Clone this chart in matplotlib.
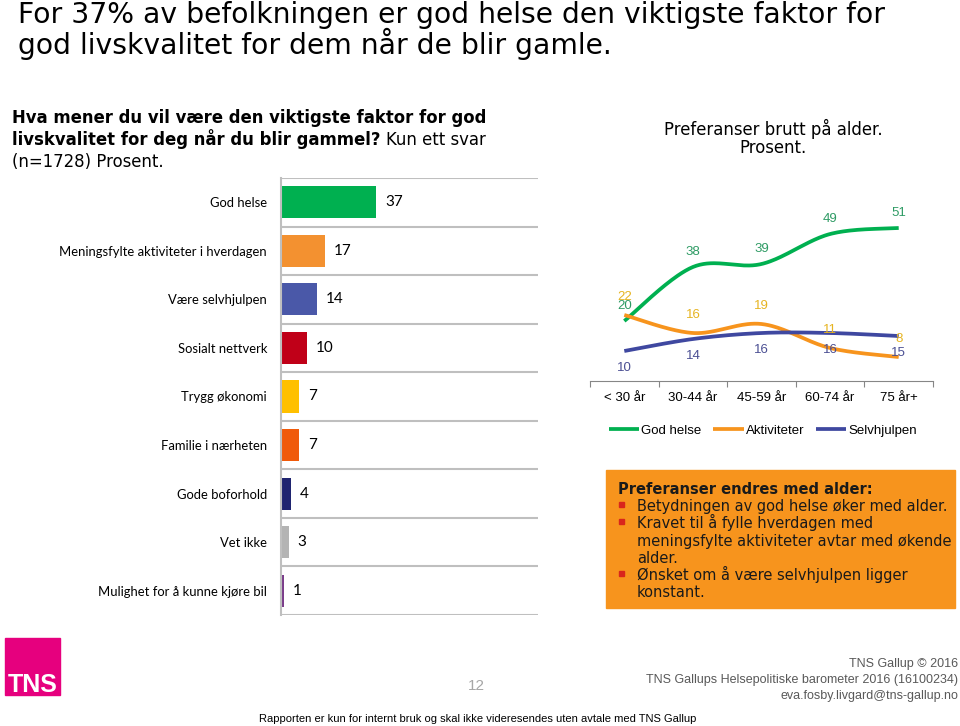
import numpy as np
import matplotlib
matplotlib.use('Agg')
import matplotlib.pyplot as plt
from matplotlib.patches import Rectangle
from matplotlib import font_manager

# --- data ---
categories = ['God helse', 'Meningsfylte aktiviteter i hverdagen', 'Være selvhjulpen',
              'Sosialt nettverk', 'Trygg økonomi', 'Familie i nærheten', 'Gode boforhold',
              'Vet ikke', 'Mulighet for å kunne kjøre bil']
values = [37, 17, 14, 10, 7, 7, 4, 3, 1]
bar_colors = ['#00B050', '#F39130', '#4A58A8', '#C00018', '#FFC000',
              '#F05A0A', '#1F2470', '#B4B4B4', '#7B3D8A']

age_groups = ['< 30 år', '30-44 år', '45-59 år', '60-74 år', '75 år+']
god_helse = [20, 38, 39, 49, 51]
aktiviteter = [22, 16, 19, 11, 8]
selvhjulpen = [10, 14, 16, 16, 15]

W, H = 960, 726
def fx(x):
    return x / W
def fy(y):
    return 1 - y / H

names = {f.name for f in font_manager.fontManager.ttflist}
narrow = 'Liberation Sans Narrow' if 'Liberation Sans Narrow' in names else 'Liberation Sans'


def smooth(xs, ys, n=40):
    # excel style smoothed line through the points
    pts = np.column_stack([xs, ys]).astype(float)
    P = np.vstack([pts[0], pts, pts[-1]])
    t = np.linspace(0, 1, n)[:, None]
    out = []
    for i in range(1, len(P) - 2):
        p0, p1, p2, p3 = P[i - 1], P[i], P[i + 1], P[i + 2]
        c1 = p1 + (p2 - p0) / 6
        c2 = p2 - (p3 - p1) / 6
        out.append((1 - t) ** 3 * p1 + 3 * (1 - t) ** 2 * t * c1 + 3 * (1 - t) * t ** 2 * c2 + t ** 3 * p2)
    return np.vstack(out)


fig = plt.figure(figsize=(9.6, 7.26), dpi=100)

# titles
fig.text(fx(18), fy(23), 'For 37% av befolkningen er god helse den viktigste faktor for',
         fontsize=20.3, family='DejaVu Sans', va='baseline')
fig.text(fx(18), fy(54), 'god livskvalitet for dem når de blir gamle.',
         fontsize=20.3, family='DejaVu Sans', va='baseline')

fig.text(fx(12), fy(123), 'Hva mener du vil være den viktigste faktor for god',
         fontsize=11.9, weight='bold', family='DejaVu Sans', va='baseline')
t2 = fig.text(fx(12), fy(145), 'livskvalitet for deg når du blir gammel?',
              fontsize=11.9, weight='bold', family='DejaVu Sans', va='baseline')
fig.canvas.draw()
bb = t2.get_window_extent(fig.canvas.get_renderer())
fig.text(bb.x1 / W + fx(5), fy(145), 'Kun ett svar',
         fontsize=11.9, family='DejaVu Sans', va='baseline')
fig.text(fx(12), fy(167), '(n=1728) Prosent.', fontsize=11.9, family='DejaVu Sans', va='baseline')

fig.text(fx(773), fy(135), 'Preferanser brutt på alder.', fontsize=11.9,
         family='DejaVu Sans', ha='center', va='baseline')
fig.text(fx(773), fy(153), 'Prosent.', fontsize=11.9,
         family='DejaVu Sans', ha='center', va='baseline')

# --- bar chart ---
ax1 = fig.add_axes([fx(281), fy(615), (538 - 281) / W, (615 - 178) / H])
y = np.arange(len(categories))
ax1.barh(y, values, height=0.66, color=bar_colors)
ax1.set_xlim(0, 100)
ax1.set_ylim(len(categories) - 0.5, -0.5)
for b in np.arange(-0.5, len(categories), 1):
    ax1.axhline(b, color='#BFBFBF', lw=1.5, zorder=0)
for i, v in enumerate(values):
    ax1.text(v + 3.5, i, str(v), va='center', ha='left', fontsize=11, family='Lato')
ax1.set_yticks(y)
ax1.set_yticklabels(categories, fontsize=9.4, family='Lato')
ax1.tick_params(axis='y', length=0, pad=10)
ax1.set_xticks([])
for s in ['top', 'right', 'bottom']:
    ax1.spines[s].set_visible(False)
ax1.spines['left'].set_color('#BFBFBF')
ax1.spines['left'].set_linewidth(1.5)

# --- line chart ---
ax2 = fig.add_axes([fx(590), fy(381), 343 / W, 180 / H])
xs = np.arange(len(age_groups))
series = [(god_helse, '#00B050', '#2E9B64', 'God helse', 11),
          (aktiviteter, '#F7941D', '#E6B422', 'Aktiviteter', 13),
          (selvhjulpen, '#3F48A0', '#4B4F93', 'Selvhjulpen', -12)]
handles = []
for vals, col, lcol, name, off in series:
    c = smooth(xs, vals)
    h, = ax2.plot(c[:, 0], c[:, 1], color=col, lw=2.7, label=name, solid_capstyle='butt')
    handles.append(h)
    for xi, v in zip(xs, vals):
        ax2.annotate(str(v), (xi, v), xytext=(0, off), textcoords='offset points',
                     ha='center', va='center', fontsize=9.5, color=lcol, family='Liberation Sans')
ax2.set_xlim(-0.5, 4.5)
ax2.set_ylim(0, 60)
ax2.set_yticks([])
ax2.set_xticks(np.arange(-0.5, 5, 1))
ax2.set_xticklabels([])
ax2.set_xticks(xs, minor=True)
ax2.set_xticklabels(age_groups, minor=True, fontsize=9.5, family='Liberation Sans')
ax2.tick_params(axis='x', which='major', length=4, color='#868686')
ax2.tick_params(axis='x', which='minor', length=0, pad=8)
for s in ['top', 'right', 'left']:
    ax2.spines[s].set_visible(False)
ax2.spines['bottom'].set_color('#868686')
ax2.patch.set_alpha(0)
leg = ax2.legend(handles=handles, loc='center', bbox_to_anchor=(fx(763), fy(431)),
                 bbox_transform=fig.transFigure, ncol=3, frameon=False,
                 prop={'family': 'Liberation Sans', 'size': 9.5},
                 handlelength=2.3, handletextpad=0.15, columnspacing=0.9)

# --- orange note box ---
fig.add_artist(Rectangle((fx(606), fy(608)), (955 - 606) / W, (608 - 470) / H,
                         transform=fig.transFigure, color='#F7941D', zorder=0))
box_lines = [('Preferanser endres med alder:', True, False),
             ('Betydningen av god helse øker med alder.', False, True),
             ('Kravet til å fylle hverdagen med', False, True),
             ('meningsfylte aktiviteter avtar med økende', False, False),
             ('alder.', False, False),
             ('Ønsket om å være selvhjulpen ligger', False, True),
             ('konstant.', False, False)]
for k, (txt, bold, bullet) in enumerate(box_lines):
    yb = 494 + 17.2 * k
    x0 = 618 if bold else 637
    fig.text(fx(x0), fy(yb), txt, fontsize=10.5, family='DejaVu Sans',
             weight='bold' if bold else 'normal', color='#1A1A1A', va='baseline')
    if bullet:
        fig.add_artist(Rectangle((fx(619), fy(yb - 4)), 5 / W, 5 / H,
                                 transform=fig.transFigure, color='#D9261C'))

# --- footer ---
fig.add_artist(Rectangle((fx(5), fy(695)), 55 / W, 57 / H, transform=fig.transFigure,
                         color='#E6007E'))
fig.text(fx(8), fy(692), 'TNS', color='white', fontsize=18, weight='bold',
         family='Liberation Sans', va='baseline')
fig.text(fx(476), fy(690), '12', color='#A6A6A6', fontsize=11, family=narrow,
         ha='center', va='baseline')
foot = ['TNS Gallup © 2016', 'TNS Gallups Helsepolitiske barometer 2016 (16100234)',
        'eva.fosby.livgard@tns-gallup.no']
for k, txt in enumerate(foot):
    fig.text(fx(958), fy(667 + 16 * k), txt, color='#595959', fontsize=9, family=narrow,
             ha='right', va='baseline')
fig.text(fx(478), fy(722), 'Rapporten er kun for internt bruk og skal ikke videresendes uten avtale med TNS Gallup',
         fontsize=8, family=narrow, ha='center', va='baseline')

fig.savefig('out.png', dpi=100)
